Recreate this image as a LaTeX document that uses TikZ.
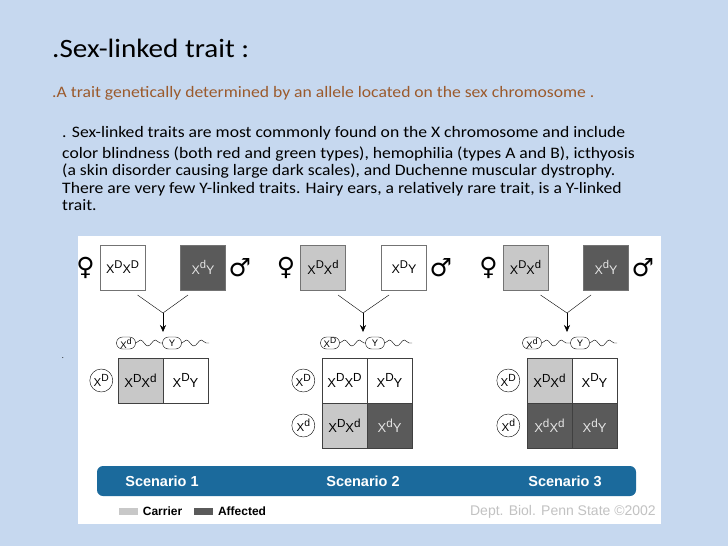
\documentclass[tikz,border=0pt]{standalone}
\usepackage{fontspec}
\usepackage{graphicx}
\setmainfont{Carlito}
\newfontfamily\slidef[FakeStretch=1.1]{Carlito}
\newfontfamily\arialf{Liberation Sans}
\newfontfamily\symf{DejaVu Sans}
\usetikzlibrary{arrows.meta,positioning,decorations.pathmorphing}

\definecolor{slidebg}{HTML}{C6D8EF}
\definecolor{brownc}{HTML}{9B5A2C}
\definecolor{carrierc}{HTML}{C8C8C8}
\definecolor{affectedc}{HTML}{5A5A5A}
\definecolor{barc}{HTML}{1B6A9C}
\definecolor{creditc}{HTML}{C2C2C2}

\newcommand{\al}[1]{X\raisebox{.42em}{\scalebox{.9}{#1}}}

\begin{document}
\begin{tikzpicture}[x=1pt, y=-1pt, >={Stealth[length=7pt, width=6pt]}, font=\arialf,
    parent/.style={draw=black!55, minimum size=45pt, inner sep=0pt, outer sep=0pt, font=\arialf\fontsize{12.5}{12.5}\selectfont},
    cell/.style={parent, draw=black!75, font=\arialf\fontsize{13}{13}\selectfont},
    carrier/.style={fill=carrierc},
    affected/.style={fill=affectedc, text=black!10},
    gamete/.style={draw, rounded corners=6pt, minimum width=19pt, minimum height=12pt, inner sep=0pt, font=\arialf\fontsize{9.5}{9.5}\selectfont},
    allele/.style={draw, circle, minimum size=23pt, inner sep=0pt, font=\arialf\fontsize{11.5}{11.5}\selectfont},
    wave/.style={decorate, decoration={snake, segment length=15pt, amplitude=3pt}},
    sym/.style={font=\symf\fontsize{25}{25}\selectfont, inner sep=0pt},
    label/.style={text=white, font=\arialf\bfseries\fontsize{14.5}{14.5}\selectfont},
    swatch/.style={minimum width=19pt, minimum height=7pt, inner sep=0pt},
    key/.style={inner sep=0pt, font=\arialf\bfseries\fontsize{12}{12}\selectfont}]

      \fill[slidebg] (0,0) rectangle (728,546);
      \path[use as bounding box] (0,0) rectangle (728,546);
      \fill[white] (78,236) rectangle (661,524);

      \node[anchor=base west, inner sep=0pt, font=\slidef\fontsize{26.5}{26.5}\selectfont] (title) at (52,57) {.Sex-linked trait :};
      \node[anchor=base west, inner sep=0pt, text=brownc, font=\slidef\fontsize{16}{16}\selectfont] (def) at (52,97) {.A trait genetically determined by an allele located on the sex chromosome .};
      \node[anchor=north west, inner sep=0pt, align=left, font=\slidef\fontsize{16}{17.5}\selectfont] (para) at (62,126)
        {. Sex-linked traits are most commonly found on the X chromosome and include\\[3.5pt]
         color blindness (both red and green types), hemophilia (types A and B), icthyosis\\
         (a skin disorder causing large dark scales), and Duchenne muscular dystrophy.\\
         There are very few Y-linked traits. Hairy ears, a relatively rare trait, is a Y-linked\\
         trait.};
      \node[inner sep=0pt, font=\fontsize{8}{8}\selectfont] (dot) at (63,358) {.};

      \node[parent]           (f1) at (122.5,267.5) {\al{D}\al{D}};
      \node[parent, affected] (m1) at (203,267.5)   {\al{d}Y};
      \node[sym]              (fs1) [left=5pt of f1]  {♀};
      \node[sym]              (ms1) [right=3pt of m1] {♂};
      \coordinate (j1) at (163,313);
      \coordinate (t1) at (163,332);
      \draw ([xshift=-7.5pt, yshift=-5pt]f1.south east) -- (j1) -- ([xshift=7.5pt, yshift=-5pt]m1.south west);
      \draw[->] (j1) -- (t1);
      \node[gamete] (g1) at (126,343) {\al{d}};
      \node[gamete] (y1) at (172,343) {Y};
      \coordinate (w1) at (209,343);
      \draw[wave] (g1.east) -- (y1.west);
      \draw[wave] (y1.east) -- (w1);
      \node[cell, carrier] (c11) at (140.5,380.5)    {\al{D}\al{d}};
      \node[cell]          (c12) [right=0pt of c11] {\al{D}Y};
      \node[allele]        (r11) [left=5pt of c11]  {\al{D}};

      \node[parent, carrier] (f2) at (323,267.5) {\al{D}\al{d}};
      \node[parent]          (m2) at (404,267.5) {\al{D}Y};
      \node[sym]             (fs2) [left=5pt of f2]  {♀};
      \node[sym]             (ms2) [right=3pt of m2] {♂};
      \coordinate (j2) at (363,313);
      \coordinate (t2) at (363,332);
      \draw ([xshift=-7.5pt, yshift=-5pt]f2.south east) -- (j2) -- ([xshift=7.5pt, yshift=-5pt]m2.south west);
      \draw[->] (j2) -- (t2);
      \node[gamete] (g2) at (330,343) {\al{D}};
      \node[gamete] (y2) at (375,343) {Y};
      \coordinate (w2) at (412,343);
      \draw[wave] (g2.east) -- (y2.west);
      \draw[wave] (y2.east) -- (w2);
      \node[cell]           (c21) at (344.5,380.5)    {\al{D}\al{D}};
      \node[cell]           (c22) [right=0pt of c21] {\al{D}Y};
      \node[cell, carrier]  (c23) [below=0pt of c21] {\al{D}\al{d}};
      \node[cell, affected] (c24) [right=0pt of c23] {\al{d}Y};
      \node[allele]         (r21) [left=7pt of c21]  {\al{D}};
      \node[allele]         (r22) [left=7pt of c23]  {\al{d}};

      \node[parent, carrier]  (f3) at (525.5,267.5) {\al{D}\al{d}};
      \node[parent, affected] (m3) at (606,267.5)   {\al{d}Y};
      \node[sym]              (fs3) [left=5pt of f3]  {♀};
      \node[sym]              (ms3) [right=3pt of m3] {♂};
      \coordinate (j3) at (567,313);
      \coordinate (t3) at (567,332);
      \draw ([xshift=-7.5pt, yshift=-5pt]f3.south east) -- (j3) -- ([xshift=7.5pt, yshift=-5pt]m3.south west);
      \draw[->] (j3) -- (t3);
      \node[gamete] (g3) at (532,343) {\al{d}};
      \node[gamete] (y3) at (580,343) {Y};
      \coordinate (w3) at (617,343);
      \draw[wave] (g3.east) -- (y3.west);
      \draw[wave] (y3.east) -- (w3);
      \node[cell, carrier]  (c31) at (549.5,380.5)    {\al{D}\al{d}};
      \node[cell]           (c32) [right=0pt of c31] {\al{D}Y};
      \node[cell, affected] (c33) [below=0pt of c31] {\al{d}\al{d}};
      \node[cell, affected] (c34) [right=0pt of c33] {\al{d}Y};
      \node[allele]         (r31) [left=7pt of c31]  {\al{D}};
      \node[allele]         (r32) [left=7pt of c33]  {\al{d}};

      \node[fill=barc, rounded corners=6pt, minimum width=539pt, minimum height=30pt] (bar) at (366.5,481) {};
      \node[label] (s1) at (162,481) {Scenario 1};
      \node[label] (s2) at (363,481) {Scenario 2};
      \node[label] (s3) at (565,481) {Scenario 3};

      \node[swatch, fill=carrierc]  (k1) at (128,511) {};
      \node[key]                    (k1t) [right=5pt of k1] {Carrier};
      \node[swatch, fill=affectedc] (k2) [right=11pt of k1t] {};
      \node[key]                    (k2t) [right=5pt of k2] {Affected};
      \node[anchor=east, inner sep=0pt, text=creditc, font=\arialf\fontsize{14}{14}\selectfont] (cr) at (656,512) {Dept. Biol. Penn State ©2002};
\end{tikzpicture}
\end{document}
